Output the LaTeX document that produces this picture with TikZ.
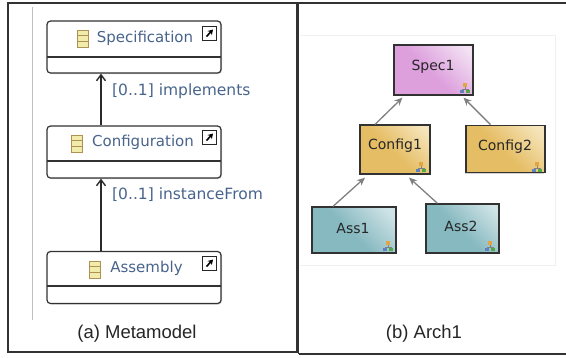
\documentclass[tikz,border=0pt]{standalone}
\usepackage{fontspec}
\setmainfont{DejaVu Sans}
\newfontfamily\captionfont{Liberation Sans}
\usetikzlibrary{arrows.meta,shadows}
\definecolor{labelblue}{RGB}{72,100,140}
\definecolor{framegray}{RGB}{50,50,50}
\definecolor{icontan}{RGB}{175,145,85}
\definecolor{iconfill}{RGB}{242,236,170}
\definecolor{treeorange}{RGB}{225,165,70}
\definecolor{treeblue}{RGB}{95,130,190}
\definecolor{treegreen}{RGB}{80,170,70}
\definecolor{specbase}{RGB}{221,160,221}
\definecolor{spectip}{RGB}{243,226,243}
\definecolor{configbase}{RGB}{229,189,100}
\definecolor{configtip}{RGB}{246,229,188}
\definecolor{assbase}{RGB}{135,185,192}
\definecolor{asstip}{RGB}{208,228,231}
\pgfdeclarehorizontalshading{specshade}{100bp}{color(0bp)=(specbase); color(47bp)=(specbase); color(80bp)=(spectip); color(100bp)=(spectip)}
\pgfdeclarehorizontalshading{configshade}{100bp}{color(0bp)=(configbase); color(47bp)=(configbase); color(80bp)=(configtip); color(100bp)=(configtip)}
\pgfdeclarehorizontalshading{assshade}{100bp}{color(0bp)=(assbase); color(47bp)=(assbase); color(80bp)=(asstip); color(100bp)=(asstip)}
\tikzset{
	classbox/.style={draw=framegray, line width=1.2pt, fill=white, rounded corners=3.5pt, minimum width=174pt, minimum height=52pt, inner sep=0pt, drop shadow={shadow xshift=1pt, shadow yshift=-1pt, opacity=0.35}},
	classname/.style={text=labelblue, font=\fontsize{15}{18}\selectfont, inner sep=0pt},
	reflabel/.style={text=labelblue, font=\fontsize{15.5}{18}\selectfont, anchor=west, inner sep=0pt},
	refarrow/.style={draw=framegray!85!black, line width=1.4pt, -{Straight Barb[length=6pt,width=9pt]}},
	archbox/.style={draw=framegray, line width=1.2pt, inner sep=0pt, shading angle=45, drop shadow={shadow xshift=-1pt, shadow yshift=-1pt, opacity=0.35}},
	archname/.style={font=\fontsize{14}{17}\selectfont, text=black!85, inner sep=0pt},
	archarrow/.style={draw=black!50, line width=1.3pt, -{Stealth[length=8pt,width=7pt]}},
	capt/.style={font=\captionfont\fontsize{18.5}{22}\selectfont, text=black!85, inner sep=0pt}
}
\def\classicon(#1,#2){
	\draw[draw=icontan, fill=iconfill, line width=1pt] (#1,#2) rectangle (#1+11,#2+17);
	\draw[draw=icontan, line width=0.8pt] (#1,#2+5.7) -- (#1+11,#2+5.7) (#1,#2+11.3) -- (#1+11,#2+11.3);
}
\def\linkicon(#1,#2){
	\draw[fill=white, draw=black!85, line width=1pt] (#1,#2) rectangle (#1+14,#2+14);
	\draw[black, line width=1.6pt, -{Stealth[length=5pt,width=6pt]}] (#1+4,#2+10.5) -- (#1+10.5,#2+3.5);
}
\def\treeicon(#1,#2){
	\draw[black!50, line width=0.4pt] (#1,#2+1) -- (#1,#2+3) (#1-3,#2+5) -- (#1-3,#2+3) -- (#1+3,#2+3) -- (#1+3,#2+5);
	\fill[treeorange] (#1-1.7,#2-3) rectangle (#1+1.7,#2+0.6);
	\fill[treeblue] (#1-5,#2+3.5) rectangle (#1-1,#2+7);
	\fill[treegreen] (#1+1,#2+3.5) rectangle (#1+5,#2+7);
}
\begin{document}
\begin{tikzpicture}[x=1pt, y=-1pt]
	\useasboundingbox (0,0) rectangle (566,357);
	
	% frames
	\draw[framegray, line width=1.2pt] (8,3) rectangle (297,352);
	\draw[framegray, line width=1.2pt] (298.5,354) -- (298.5,3) -- (566,3);
	\draw[framegray, line width=1.2pt] (298.5,354) -- (566,354);
	\draw[black!25, line width=0.6pt] (32,7) -- (32,320);
	\draw[black!6, line width=0.6pt] (300,35) -- (555,35) -- (555,265) -- (300,265);
	
	% metamodel
	\node[classbox] (spec) at (134,47) {};
	\node[classbox] (config) at (134,152) {};
	\node[classbox] (assembly) at (134,277.5) {};
	\draw[framegray, line width=1.5pt] (47,57) -- (221,57);
	\draw[framegray, line width=1.5pt] (47,161) -- (221,161);
	\draw[framegray, line width=1.5pt] (47,286) -- (221,286);
	
	\classicon(77,30)
	\classicon(71.5,135)
	\classicon(89,261)
	\node[classname] (specname) at (145,38) {Specification};
	\node[classname] (configname) at (143,142) {Configuration};
	\node[classname] (assemblyname) at (146.5,268) {Assembly};
	\linkicon(202.5,26)
	\linkicon(202.5,130)
	\linkicon(202.5,256)
	
	\draw[refarrow] ([xshift=-33pt]config.north) -- ([xshift=-33pt]spec.south);
	\draw[refarrow] ([xshift=-33pt]assembly.north) -- ([xshift=-33pt]config.south);
	\node[reflabel] (implements) at (112,91) {[0..1] implements};
	\node[reflabel] (instancefrom) at (112,195) {[0..1] instanceFrom};
	
	% arch1
	\node[archbox, shading=specshade, minimum width=79pt, minimum height=50pt] (spec1) at (433.5,70) {};
	\node[archbox, shading=configshade, minimum width=70pt, minimum height=49pt] (config1) at (395,149.5) {};
	\node[archbox, shading=configshade, minimum width=79pt, minimum height=47.5pt] (config2) at (505.5,149) {};
	\node[archbox, shading=assshade, minimum width=84pt, minimum height=46pt] (ass1) at (354,230) {};
	\node[archbox, shading=assshade, minimum width=73pt, minimum height=49pt] (ass2) at (462.5,228.5) {};
	\node[archname] (spec1name) at (433,67) {Spec1};
	\node[archname] (config1name) at (395,146) {Config1};
	\node[archname] (config2name) at (505,147) {Config2};
	\node[archname] (ass1name) at (353,228) {Ass1};
	\node[archname] (ass2name) at (461,226) {Ass2};
	\treeicon(465,86)
	\treeicon(421,165)
	\treeicon(537,165)
	\treeicon(388,244)
	\treeicon(490,244)
	
	\draw[archarrow] ([xshift=-20pt]config1.north) -- ([xshift=-31pt,yshift=-2pt]spec1.south);
	\draw[archarrow] ([xshift=-15pt]config2.north) -- ([xshift=30pt,yshift=-2pt]spec1.south);
	\draw[archarrow] ([xshift=-21pt]ass1.north) -- ([xshift=-30pt,yshift=-3pt]config1.south);
	\draw[archarrow] ([xshift=-25pt]ass2.north) -- ([xshift=14pt,yshift=-3pt]config1.south);
	
	% captions
	\node[capt] (captiona) at (137,334) {(a) Metamodel};
	\node[capt] (captionb) at (424,334) {(b) Arch1};
\end{tikzpicture}
\end{document}
